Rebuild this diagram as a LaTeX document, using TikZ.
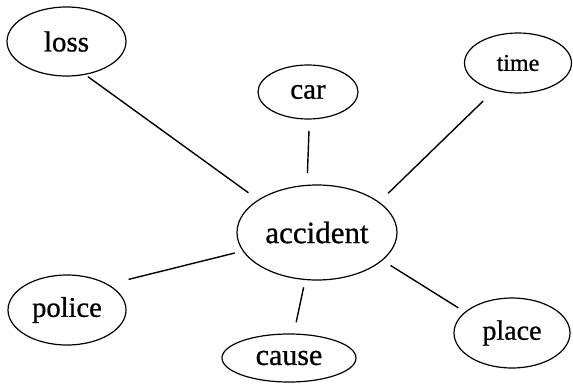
\documentclass[tikz,border=0pt]{standalone}
\usepackage{fontspec}
\setmainfont{Liberation Serif}
% slightly heavier strokes for the labels
\newfontfamily\labelfont{Liberation Serif}[FakeBold=0.8]
\usetikzlibrary{shapes.geometric}
\begin{document}
\begin{tikzpicture}[x=1pt,y=-1pt,
  topic/.style={draw, ellipse, line width=1.2pt, inner sep=0pt, outer sep=0pt},
  link/.style={line width=1.4pt}]
\useasboundingbox (0,0) rectangle (573,385);

% central concept
\node[topic, minimum width=160pt, minimum height=95pt,
      font=\labelfont\fontsize{31}{36}\selectfont] (accident) at (317,232.5) {accident};

% surrounding concepts
\node[topic, minimum width=119pt, minimum height=69pt,
      font=\labelfont\fontsize{29}{34}\selectfont] (loss) at (66.5,41.5) {loss};
\node[topic, minimum width=100pt, minimum height=54pt,
      font=\labelfont\fontsize{29}{34}\selectfont] (car) at (308,92) {car};
\node[topic, minimum width=107pt, minimum height=60pt,
      font=\labelfont\fontsize{24}{28}\selectfont] (time) at (518,63) {time};
\node[topic, minimum width=118pt, minimum height=70pt,
      font=\labelfont\fontsize{28.5}{33}\selectfont] (police) at (67,310) {police};
\node[topic, minimum width=134pt, minimum height=48pt,
      font=\labelfont\fontsize{30}{35}\selectfont] (cause) at (289,358) {cause};
\node[topic, minimum width=116pt, minimum height=70pt,
      font=\labelfont\fontsize{28}{33}\selectfont] (place) at (512,333) {place};

% connectors, each stopping short of the ellipses
\draw[link, shorten <=4pt,    shorten >=12.5pt] (loss.-61.5)    -- (accident.151.3);
\draw[link, shorten <=12pt,   shorten >=12.4pt] (car.-87.2)     -- (accident.102.2);
\draw[link, shorten <=15.9pt, shorten >=13pt]   (time.-131.3)   -- (accident.26.3);
\draw[link, shorten <=21.6pt, shorten >=8.8pt]  (police.32.7)   -- (accident.-166.9);
\draw[link, shorten <=12pt,   shorten >=8pt]    (cause.79.1)    -- (accident.-104.8);
\draw[link, shorten <=8.3pt,  shorten >=10pt]   (place.156.3)   -- (accident.-23.6);
\end{tikzpicture}
\end{document}
